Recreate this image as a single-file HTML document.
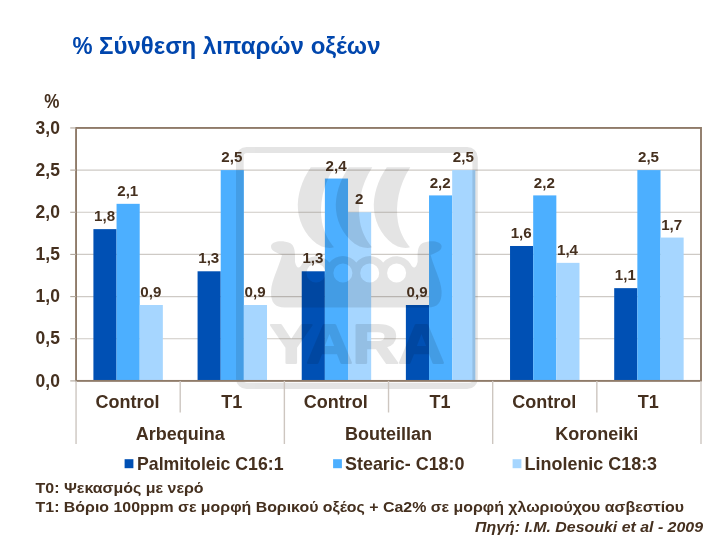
<!DOCTYPE html>
<html lang="el"><head><meta charset="utf-8"><title>% Σύνθεση λιπαρών οξέων</title>
<style>html,body{margin:0;padding:0;background:#fff;overflow:hidden}svg{display:block}</style></head>
<body>
<svg xml:space="preserve" width="714" height="536" viewBox="0 0 714 536" font-family="'Liberation Sans', Arial, sans-serif" font-weight="bold">
<rect width="714" height="536" fill="#fff"/>
<text y="54.3" font-size="24" fill="#0046AD"><tspan x="72.4" textLength="26.3" lengthAdjust="spacingAndGlyphs">% </tspan><tspan x="99.0" textLength="281.5" lengthAdjust="spacingAndGlyphs">Σύνθεση λιπαρών οξέων</tspan></text>
<line x1="76.05" x2="701.0" y1="338.74" y2="338.74" stroke="#CECAC5" stroke-width="1.15"/>
<line x1="76.05" x2="701.0" y1="296.58" y2="296.58" stroke="#CECAC5" stroke-width="1.15"/>
<line x1="76.05" x2="701.0" y1="254.43" y2="254.43" stroke="#CECAC5" stroke-width="1.15"/>
<line x1="76.05" x2="701.0" y1="212.27" y2="212.27" stroke="#CECAC5" stroke-width="1.15"/>
<line x1="76.05" x2="701.0" y1="170.11" y2="170.11" stroke="#CECAC5" stroke-width="1.15"/>
<rect x="93.41" y="229.13" width="23.15" height="151.77" fill="#0050B4"/>
<rect x="116.56" y="203.83" width="23.15" height="177.07" fill="#4CAFFF"/>
<rect x="139.70" y="305.01" width="23.15" height="75.88" fill="#A6D6FF"/>
<rect x="197.57" y="271.29" width="23.15" height="109.61" fill="#0050B4"/>
<rect x="220.71" y="170.11" width="23.15" height="210.79" fill="#4CAFFF"/>
<rect x="243.86" y="305.01" width="23.15" height="75.88" fill="#A6D6FF"/>
<rect x="301.73" y="271.29" width="23.15" height="109.61" fill="#0050B4"/>
<rect x="324.87" y="178.54" width="23.15" height="202.36" fill="#4CAFFF"/>
<rect x="348.02" y="212.27" width="23.15" height="168.63" fill="#A6D6FF"/>
<rect x="405.88" y="305.01" width="23.15" height="75.88" fill="#0050B4"/>
<rect x="429.03" y="195.40" width="23.15" height="185.50" fill="#4CAFFF"/>
<rect x="452.18" y="170.11" width="23.15" height="210.79" fill="#A6D6FF"/>
<rect x="510.04" y="245.99" width="23.15" height="134.91" fill="#0050B4"/>
<rect x="533.19" y="195.40" width="23.15" height="185.50" fill="#4CAFFF"/>
<rect x="556.34" y="262.86" width="23.15" height="118.04" fill="#A6D6FF"/>
<rect x="614.20" y="288.15" width="23.15" height="92.75" fill="#0050B4"/>
<rect x="637.35" y="170.11" width="23.15" height="210.79" fill="#4CAFFF"/>
<rect x="660.49" y="237.56" width="23.15" height="143.34" fill="#A6D6FF"/>
<g opacity="0.10" fill="#000">
<path fill-rule="evenodd" d="M246.5 147H467.3a10.5 10.5 0 0 1 10.5 10.5V378.5a10.5 10.5 0 0 1-10.5 10.5H246.5a10.5 10.5 0 0 1-10.5-10.5V157.5a10.5 10.5 0 0 1 10.5-10.5ZM247 152.9a3.3 3.3 0 0 0-3.3 3.3V379.5a3.3 3.3 0 0 0 3.3 3.3H469.1a3.3 3.3 0 0 0 3.3-3.3V156.2a3.3 3.3 0 0 0-3.3-3.3Z"/>
<path transform="translate(-0.3 0)" d="M311.1 167.2C302 180 297 196 298.3 210C299.5 224 308 240 322 246.5C326 248 331 248.3 334.3 247.3C329 241 324 232 322.3 222C319.5 205 323 185 334.6 167.2Z"/>
<path transform="translate(37.7 0)" d="M311.1 167.2C302 180 297 196 298.3 210C299.5 224 308 240 322 246.5C326 248 331 248.3 334.3 247.3C329 241 324 232 322.3 222C319.5 205 323 185 334.6 167.2Z"/>
<path transform="translate(75.7 0)" d="M311.1 167.2C302 180 297 196 298.3 210C299.5 224 308 240 322 246.5C326 248 331 248.3 334.3 247.3C329 241 324 232 322.3 222C319.5 205 323 185 334.6 167.2Z"/>
<path fill-rule="evenodd" d="M271 246C272 241 282 240 290 243C294 245 295 250 295 256L295 262C297 270 300 268 302 264A17 17 0 0 1 329.5 262.5A17 17 0 0 1 356.3 262.5A17 17 0 0 1 383.2 262.5A17 17 0 0 1 410.6 264C412.6 268 415.6 270 417.6 262L417.6 256C417.6 250 418.6 245 422.6 243C430.6 240 440.6 241 441.6 246C441.6 250 440 251 430.6 255C434 268 441 280 441.6 291C442 302 438 307.5 428 307.5H284.6C274.6 307.5 270.6 302 271 291C271.6 280 278.6 268 282 255C272.6 251 271 250 271 246ZM306.5 273a9.5 9.5 0 1 0 19 0a9.5 9.5 0 1 0 -19 0ZM333.4 273a9.5 9.5 0 1 0 19 0a9.5 9.5 0 1 0 -19 0ZM360.2 273a9.5 9.5 0 1 0 19 0a9.5 9.5 0 1 0 -19 0ZM387.1 273a9.5 9.5 0 1 0 19 0a9.5 9.5 0 1 0 -19 0Z"/>
<text x="357.2" y="362.6" font-size="55.5" text-anchor="middle" textLength="174.5" lengthAdjust="spacingAndGlyphs" stroke="#000" stroke-width="2.2" stroke-linejoin="round">YARA</text>
</g>
<rect x="76.05" y="127.95" width="624.95" height="252.95" fill="none" stroke="#8F7B69" stroke-width="1.9"/>
<line x1="70.25" x2="76.05" y1="380.90" y2="380.90" stroke="#B3A99F" stroke-width="1.15"/>
<text transform="translate(59.9 386.50) scale(0.96 1)" font-size="18.2" fill="#45301F" text-anchor="end">0,0</text>
<line x1="70.25" x2="76.05" y1="338.74" y2="338.74" stroke="#B3A99F" stroke-width="1.15"/>
<text transform="translate(59.9 344.34) scale(0.96 1)" font-size="18.2" fill="#45301F" text-anchor="end">0,5</text>
<line x1="70.25" x2="76.05" y1="296.58" y2="296.58" stroke="#B3A99F" stroke-width="1.15"/>
<text transform="translate(59.9 302.18) scale(0.96 1)" font-size="18.2" fill="#45301F" text-anchor="end">1,0</text>
<line x1="70.25" x2="76.05" y1="254.43" y2="254.43" stroke="#B3A99F" stroke-width="1.15"/>
<text transform="translate(59.9 260.03) scale(0.96 1)" font-size="18.2" fill="#45301F" text-anchor="end">1,5</text>
<line x1="70.25" x2="76.05" y1="212.27" y2="212.27" stroke="#B3A99F" stroke-width="1.15"/>
<text transform="translate(59.9 217.87) scale(0.96 1)" font-size="18.2" fill="#45301F" text-anchor="end">2,0</text>
<line x1="70.25" x2="76.05" y1="170.11" y2="170.11" stroke="#B3A99F" stroke-width="1.15"/>
<text transform="translate(59.9 175.71) scale(0.96 1)" font-size="18.2" fill="#45301F" text-anchor="end">2,5</text>
<line x1="70.25" x2="76.05" y1="127.95" y2="127.95" stroke="#B3A99F" stroke-width="1.15"/>
<text transform="translate(59.9 133.55) scale(0.96 1)" font-size="18.2" fill="#45301F" text-anchor="end">3,0</text>
<text transform="translate(51.75 108.1) scale(0.87 1)" font-size="19.6" fill="#45301F" text-anchor="middle">%</text>
<text transform="translate(104.58 221.23) scale(0.99 1)" font-size="15.3" fill="#45301F" text-anchor="middle">1,8</text>
<text transform="translate(127.73 195.93) scale(0.99 1)" font-size="15.3" fill="#45301F" text-anchor="middle">2,1</text>
<text transform="translate(150.88 297.12) scale(0.99 1)" font-size="15.3" fill="#45301F" text-anchor="middle">0,9</text>
<text transform="translate(208.74 263.39) scale(0.99 1)" font-size="15.3" fill="#45301F" text-anchor="middle">1,3</text>
<text transform="translate(231.89 162.21) scale(0.99 1)" font-size="15.3" fill="#45301F" text-anchor="middle">2,5</text>
<text transform="translate(255.03 297.12) scale(0.99 1)" font-size="15.3" fill="#45301F" text-anchor="middle">0,9</text>
<text transform="translate(312.90 263.39) scale(0.99 1)" font-size="15.3" fill="#45301F" text-anchor="middle">1,3</text>
<text transform="translate(336.05 170.64) scale(0.99 1)" font-size="15.3" fill="#45301F" text-anchor="middle">2,4</text>
<text transform="translate(359.19 204.37) scale(0.99 1)" font-size="15.3" fill="#45301F" text-anchor="middle">2</text>
<text transform="translate(417.06 297.12) scale(0.99 1)" font-size="15.3" fill="#45301F" text-anchor="middle">0,9</text>
<text transform="translate(440.20 187.50) scale(0.99 1)" font-size="15.3" fill="#45301F" text-anchor="middle">2,2</text>
<text transform="translate(463.35 162.21) scale(0.99 1)" font-size="15.3" fill="#45301F" text-anchor="middle">2,5</text>
<text transform="translate(521.22 238.09) scale(0.99 1)" font-size="15.3" fill="#45301F" text-anchor="middle">1,6</text>
<text transform="translate(544.36 187.50) scale(0.99 1)" font-size="15.3" fill="#45301F" text-anchor="middle">2,2</text>
<text transform="translate(567.51 254.96) scale(0.99 1)" font-size="15.3" fill="#45301F" text-anchor="middle">1,4</text>
<text transform="translate(625.37 280.25) scale(0.99 1)" font-size="15.3" fill="#45301F" text-anchor="middle">1,1</text>
<text transform="translate(648.52 162.21) scale(0.99 1)" font-size="15.3" fill="#45301F" text-anchor="middle">2,5</text>
<text transform="translate(671.67 229.66) scale(0.99 1)" font-size="15.3" fill="#45301F" text-anchor="middle">1,7</text>
<line x1="76.05" x2="76.05" y1="380.9" y2="444" stroke="#CDC6C0" stroke-width="1.4"/>
<line x1="180.21" x2="180.21" y1="380.9" y2="412.5" stroke="#CDC6C0" stroke-width="1.4"/>
<line x1="284.37" x2="284.37" y1="380.9" y2="444" stroke="#CDC6C0" stroke-width="1.4"/>
<line x1="388.53" x2="388.53" y1="380.9" y2="412.5" stroke="#CDC6C0" stroke-width="1.4"/>
<line x1="492.68" x2="492.68" y1="380.9" y2="444" stroke="#CDC6C0" stroke-width="1.4"/>
<line x1="596.84" x2="596.84" y1="380.9" y2="412.5" stroke="#CDC6C0" stroke-width="1.4"/>
<line x1="701.00" x2="701.00" y1="380.9" y2="444" stroke="#CDC6C0" stroke-width="1.4"/>
<text x="127.53" y="407.5" font-size="18" fill="#45301F" text-anchor="middle">Control</text>
<text x="231.69" y="407.5" font-size="18" fill="#45301F" text-anchor="middle">T1</text>
<text x="335.85" y="407.5" font-size="18" fill="#45301F" text-anchor="middle">Control</text>
<text x="440.00" y="407.5" font-size="18" fill="#45301F" text-anchor="middle">T1</text>
<text x="544.16" y="407.5" font-size="18" fill="#45301F" text-anchor="middle">Control</text>
<text x="648.32" y="407.5" font-size="18" fill="#45301F" text-anchor="middle">T1</text>
<text x="180.21" y="439.5" font-size="18" fill="#45301F" text-anchor="middle">Arbequina</text>
<text x="388.53" y="439.5" font-size="18" fill="#45301F" text-anchor="middle">Bouteillan</text>
<text x="596.84" y="439.5" font-size="18" fill="#45301F" text-anchor="middle">Koroneiki</text>
<rect x="124.6" y="459.2" width="8.8" height="9" fill="#0050B4"/>
<text x="137.0" y="469.9" font-size="17.8" fill="#45301F" textLength="146.5" lengthAdjust="spacingAndGlyphs">Palmitoleic C16:1</text>
<rect x="333.1" y="459.2" width="8.8" height="9" fill="#4CAFFF"/>
<text x="345.0" y="469.9" font-size="17.8" fill="#45301F" textLength="119.5" lengthAdjust="spacingAndGlyphs">Stearic- C18:0</text>
<rect x="512.6" y="459.2" width="8.8" height="9" fill="#A6D6FF"/>
<text x="524.6" y="469.9" font-size="17.8" fill="#45301F" textLength="132.5" lengthAdjust="spacingAndGlyphs">Linolenic C18:3</text>
<text x="35.6" y="492.8" font-size="15.2" fill="#45301F" textLength="168" lengthAdjust="spacingAndGlyphs">T0: Ψεκασμός με νερό</text>
<text x="35.6" y="512" font-size="15.2" fill="#45301F" textLength="648.5" lengthAdjust="spacingAndGlyphs">T1: Βόριο 100ppm σε μορφή Βορικού οξέος + Ca2% σε μορφή χλωριούχου ασβεστίου</text>
<text x="475" y="532.1" font-size="15.2" font-style="italic" fill="#45301F" textLength="228" lengthAdjust="spacingAndGlyphs">Πηγή: I.M. Desouki et al - 2009</text>
</svg>
</body></html>
